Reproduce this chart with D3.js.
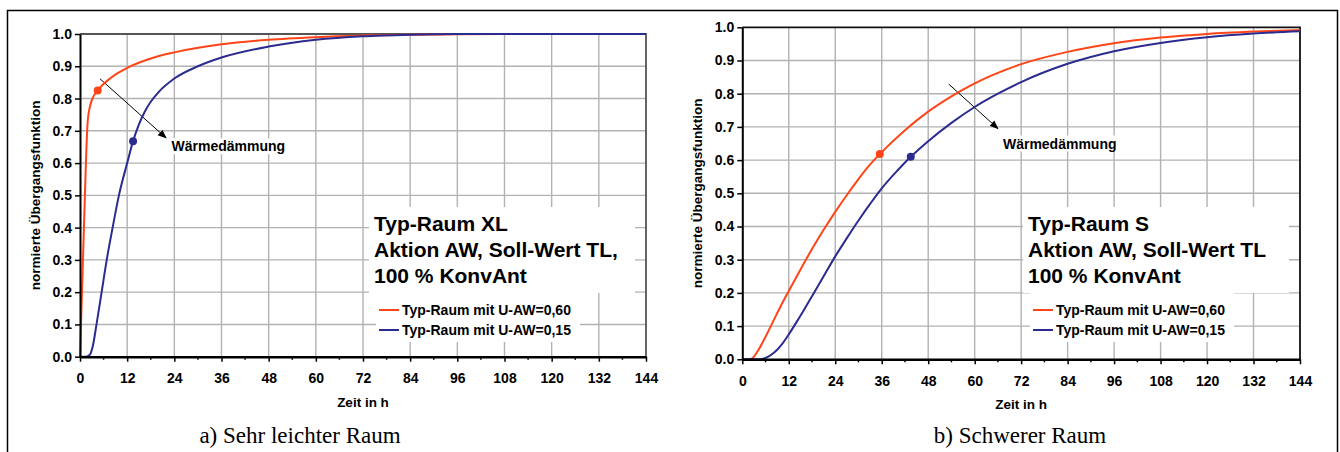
<!DOCTYPE html>
<html>
<head>
<meta charset="utf-8">
<script src="https://cdn.jsdelivr.net/npm/d3@7"></script>
<style>
  body { margin: 0; background: #fff; }
  text { font-family: Arial, "Liberation Sans", sans-serif; font-weight: bold; fill: #000; }
  .caption { font-family: "Times New Roman", "Liberation Serif", serif; font-weight: normal; }
</style>
</head>
<body>
<svg id="fig" width="1340" height="452"></svg>
<script>
// hour ticks and value ticks
const hourTicks = [0, 12, 24, 36, 48, 60, 72, 84, 96, 108, 120, 132, 144];
const minorHours = [6, 18, 30, 42, 54, 66, 78, 90, 102, 114, 126, 138];
const valueTicks = [0, 0.1, 0.2, 0.3, 0.4, 0.5, 0.6, 0.7, 0.8, 0.9, 1.0];

const seriesNames = ["Typ-Raum mit U-AW=0,60", "Typ-Raum mit U-AW=0,15"];

// a) very light room, [hour, value]
const xlOrange = [[0,0],[0.4,0.16],[1,0.4],[2,0.735],[3,0.795],[4.5,0.825],[6,0.845],[9,0.874],[12,0.895],[18,0.924],[24,0.943],[36,0.968],[48,0.982],[60,0.99],[72,0.995],[84,0.998],[96,0.999],[108,1],[144,1]];
const xlBlue = [[0,0],[1.5,0],[2.5,0.006],[3.2,0.03],[4.2,0.1],[5.5,0.2],[6.8,0.3],[8.3,0.4],[9.9,0.5],[12,0.6],[13.5,0.668],[15,0.72],[16.5,0.76],[18,0.79],[20,0.82],[24,0.862],[30,0.9],[36,0.927],[48,0.961],[60,0.982],[72,0.993],[84,0.998],[96,1],[144,1]];
const xlMarks = [[4.5, 0.825], [13.5, 0.668]];

// b) heavy room
const sOrange = [[0,0],[1,0],[2.4,0.002],[4,0.025],[6,0.068],[8,0.115],[10,0.162],[12,0.206],[15,0.27],[18,0.332],[21,0.39],[24,0.444],[27,0.495],[30,0.543],[33,0.587],[35.5,0.618],[42,0.69],[48,0.746],[54,0.792],[60,0.831],[72,0.889],[84,0.926],[96,0.952],[108,0.969],[120,0.98],[132,0.987],[144,0.992]];
const sBlue = [[0,0],[4,0],[6,0.004],[8,0.018],[10,0.042],[12,0.075],[14,0.112],[16,0.15],[18,0.19],[21,0.25],[24,0.31],[27,0.365],[30,0.418],[33,0.468],[36,0.515],[40,0.568],[43.5,0.61],[48,0.657],[54,0.712],[60,0.76],[66,0.8],[72,0.835],[84,0.89],[96,0.928],[108,0.953],[120,0.97],[132,0.981],[144,0.988]];
const sMarks = [[35.5, 0.618], [43.5, 0.61]];

const colors = ["#ff4517", "#2b2b90"];

const charts = [
  { left: 80, right: 646, top: 34, bottom: 356.7, topColor: "#555",
    series: [xlOrange, xlBlue], marks: xlMarks,
    title: ["Typ-Raum XL", "Aktion AW, Soll-Wert TL,", "100 % KonvAnt"],
    arrow: [[5.1, 0.861], [21.9, 0.678]], label: [23.3, 0.652],
    caption: "a) Sehr leichter Raum", capX: 300 },
  { left: 742.3, right: 1300, top: 27.3, bottom: 359.3, topColor: "#111",
    series: [sOrange, sBlue], marks: sMarks,
    title: ["Typ-Raum S", "Aktion AW, Soll-Wert TL", "100 % KonvAnt"],
    arrow: [[53.3, 0.829], [66, 0.695]], label: [67.3, 0.65],
    caption: "b) Schwerer Raum", capX: 1020 }
];

const svg = d3.select("#fig");

svg.append("defs").append("marker")
  .attr("id", "arrowhead")
  .attr("viewBox", "0 0 10 10")
  .attr("refX", 9).attr("refY", 5)
  .attr("markerWidth", 9).attr("markerHeight", 9)
  .attr("markerUnits", "userSpaceOnUse")
  .attr("orient", "auto")
  .append("path").attr("d", "M0,1 L10,5 L0,9 Z").attr("fill", "#000");

// outer frame
svg.append("rect")
  .attr("x", 7.5).attr("y", 10.5).attr("width", 1330).attr("height", 470)
  .attr("fill", "none").attr("stroke", "#000").attr("stroke-width", 1.5);

charts.forEach(function (c) {
  const x = d3.scaleLinear().domain([0, 144]).range([c.left, c.right]);
  const y = d3.scaleLinear().domain([0, 1]).range([c.bottom, c.top]);
  const g = svg.append("g");

  // grid
  g.selectAll(".vgrid").data(hourTicks.slice(1, -1)).enter().append("line")
    .attr("x1", d => x(d)).attr("x2", d => x(d))
    .attr("y1", c.top).attr("y2", c.bottom)
    .attr("stroke", "#b2b2b2").attr("stroke-width", 1.4);
  g.selectAll(".hgrid").data(valueTicks.slice(1, -1)).enter().append("line")
    .attr("x1", c.left).attr("x2", c.right)
    .attr("y1", d => y(d)).attr("y2", d => y(d))
    .attr("stroke", "#b2b2b2").attr("stroke-width", 1.4);

  // plot border top / right
  g.append("path")
    .attr("d", `M${c.left},${c.top}H${c.right}V${c.bottom}`)
    .attr("fill", "none").attr("stroke", c.topColor).attr("stroke-width", 1.8);

  // white boxes for title and legend
  const bx = c.right - 277;
  g.append("rect").attr("x", bx).attr("y", 207).attr("width", 266).attr("height", 86).attr("fill", "#fff");
  g.append("rect").attr("x", bx + 7).attr("y", 293).attr("width", 204).attr("height", 49).attr("fill", "#fff");

  g.selectAll(".title").data(c.title).enter().append("text")
    .attr("x", bx + 5).attr("y", (d, i) => 230.5 + i * 26)
    .style("font-size", "21px")
    .text(d => d);

  const leg = g.selectAll(".leg").data(seriesNames).enter().append("g")
    .attr("transform", (d, i) => "translate(" + (bx + 10) + "," + (310 + i * 20) + ")");
  leg.append("line").attr("x1", 0).attr("x2", 20)
    .attr("stroke", (d, i) => colors[i]).attr("stroke-width", 2);
  leg.append("text").attr("x", 23).attr("y", 5)
    .style("font-size", "14px").text(d => d);

  // Wärmedämmung annotation
  const lbl = g.append("text")
    .attr("x", x(c.label[0])).attr("y", y(c.label[1]) + 5)
    .style("font-size", "14px").text("Wärmedämmung");
  const bb = lbl.node().getBBox();
  g.insert("rect", "text")
    .attr("x", bb.x - 2).attr("y", bb.y).attr("width", bb.width + 4).attr("height", bb.height)
    .attr("fill", "#fff");
  g.append("line")
    .attr("x1", x(c.arrow[0][0])).attr("y1", y(c.arrow[0][1]))
    .attr("x2", x(c.arrow[1][0])).attr("y2", y(c.arrow[1][1]))
    .attr("stroke", "#000").attr("stroke-width", 1)
    .attr("marker-end", "url(#arrowhead)");

  // curves
  const line = d3.line().x(d => x(d[0])).y(d => y(d[1])).curve(d3.curveMonotoneX);
  g.selectAll(".curve").data(c.series).enter().append("path")
    .attr("d", line)
    .attr("fill", "none")
    .attr("stroke", (d, i) => colors[i])
    .attr("stroke-width", 2);

  g.selectAll(".mark").data(c.marks).enter().append("circle")
    .attr("cx", d => x(d[0])).attr("cy", d => y(d[1])).attr("r", 4)
    .attr("fill", (d, i) => colors[i]);

  // axes
  const yAxis = g.append("g")
    .attr("transform", "translate(" + c.left + ",0)")
    .call(d3.axisLeft(y).tickValues(valueTicks).tickFormat(d3.format(".1f")).tickSize(5).tickSizeOuter(0).tickPadding(3));
  yAxis.select(".domain").attr("stroke-width", 2);
  yAxis.selectAll(".tick line").attr("stroke-width", 1.5);
  yAxis.selectAll("text").style("font-size", "14px").attr("fill", "#000");

  const xAxis = g.append("g")
    .attr("transform", "translate(0," + c.bottom + ")")
    .call(d3.axisBottom(x).tickValues(hourTicks).tickSize(5).tickSizeOuter(0));
  xAxis.select(".domain").attr("stroke-width", 2.5);
  xAxis.selectAll(".tick line").attr("stroke-width", 1.5);
  xAxis.selectAll("text").style("font-size", "14px").attr("fill", "#000")
    .attr("y", 26.5).attr("dy", 0);
  xAxis.selectAll(".minor").data(minorHours).enter().append("line")
    .attr("x1", d => x(d)).attr("x2", d => x(d)).attr("y1", 0).attr("y2", 3)
    .attr("stroke", "#000").attr("stroke-width", 1.5);

  // axis titles
  g.append("text")
    .attr("transform", "translate(" + (c.left - 40) + "," + ((c.top + c.bottom) / 2) + ") rotate(-90)")
    .attr("text-anchor", "middle")
    .style("font-size", "13.5px")
    .text("normierte Übergangsfunktion");
  g.append("text")
    .attr("x", (c.left + c.right) / 2).attr("y", c.bottom + 50)
    .attr("text-anchor", "middle")
    .style("font-size", "13.5px")
    .text("Zeit in h");

  g.append("text").attr("class", "caption")
    .attr("x", c.capX).attr("y", 443)
    .attr("text-anchor", "middle")
    .style("font-size", "23px")
    .text(c.caption);
});
</script>
</body>
</html>
